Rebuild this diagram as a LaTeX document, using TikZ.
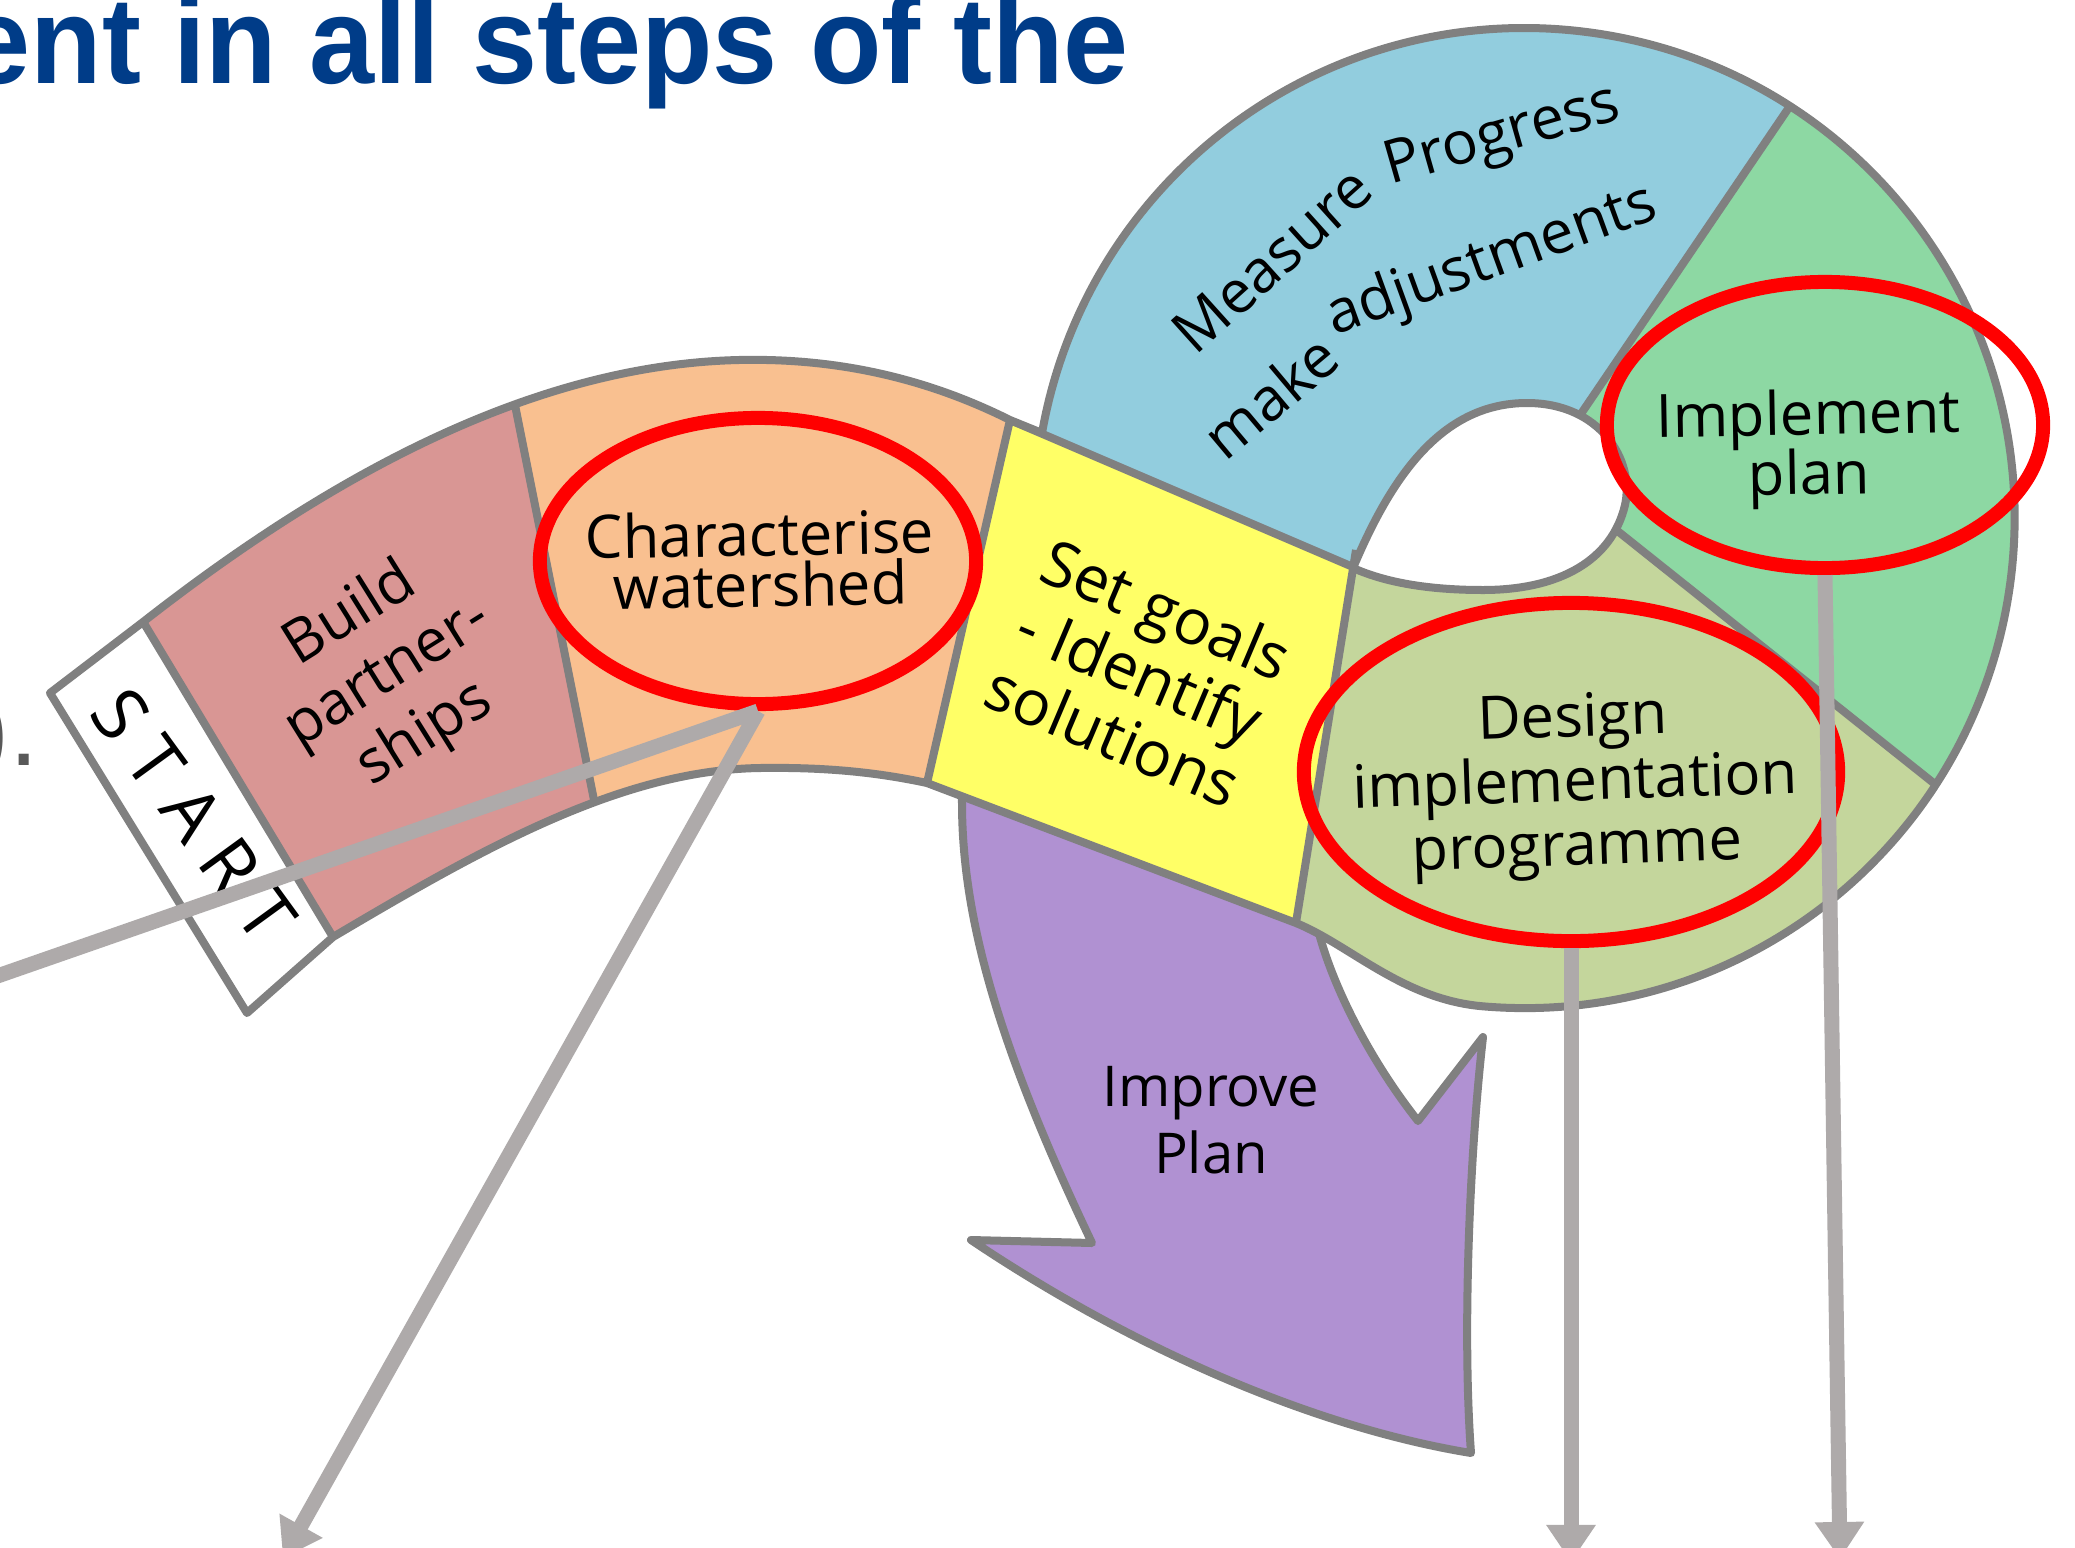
\documentclass[tikz,border=0pt]{standalone}
\usepackage{fontspec}
\usetikzlibrary{arrows.meta,shapes.geometric}
\newfontfamily\handfont{Open Sans}
\newfontfamily\slidefont{Liberation Sans}
\definecolor{pinkstep}{RGB}{217,150,148}
\definecolor{orangestep}{RGB}{249,192,144}
\definecolor{yellowstep}{RGB}{255,255,102}
\definecolor{bluestep}{RGB}{146,205,222}
\definecolor{greenstep}{RGB}{141,216,163}
\definecolor{olivestep}{RGB}{196,214,156}
\definecolor{purplestep}{RGB}{176,145,210}
\definecolor{edgegray}{RGB}{128,128,128}
\definecolor{hired}{RGB}{255,0,0}
\definecolor{ptrgray}{RGB}{174,170,170}
\definecolor{titleblue}{RGB}{0,60,136}
\definecolor{bodygray}{RGB}{89,89,89}

\newcommand{\bandoutline}{(50,693) -- (143,622) .. controls (350,460) and (560,355) .. (767,360)
  .. controls (860,362) and (940,385) .. (1010,420) -- (1042,433)
  arc[start angle=190, end angle=455, radius=490]
  .. controls (1402,999) and (1350,945) .. (1296,923)
  -- (927,783) .. controls (880,773) and (830,767) .. (760,768)
  .. controls (620,770) and (480,850) .. (333,937) -- (247,1013) -- cycle}
\newcommand{\holeoutline}{(1353,568) .. controls (1390,480) and (1440,403) .. (1527,403)
  .. controls (1600,403) and (1635,460) .. (1625,505)
  .. controls (1612,560) and (1560,590) .. (1483,590)
  .. controls (1420,590) and (1380,580) .. cycle}

\begin{document}
\begin{tikzpicture}[x=0.01cm, y=-0.01cm,
    edge/.style={draw=edgegray, line width=0.08cm, line join=round},
    steptext/.style={font=\handfont\fontsize{17}{20}\selectfont, align=center, inner sep=0pt},
    hilite/.style={draw=hired, line width=0.14cm, ellipse, inner sep=0pt},
    pointer/.style={draw=ptrgray, line width=0.15cm, -{Triangle[width=0.47cm,length=0.37cm]}},
    pointerline/.style={draw=ptrgray, line width=0.15cm}]
    \fill[white] (0,0) rectangle (2075,1548);
    \useasboundingbox (0,0) rectangle (2075,1548);

    % improve plan arrow, under the band
    \filldraw[edge, fill=purplestep] (960,770) -- (962,803) .. controls (962,920) and (1000,1050) .. (1092,1243)
      -- (971,1240) .. controls (1150,1360) and (1330,1430) .. (1471,1453)
      .. controls (1462,1330) and (1470,1150) .. (1483,1037) -- (1418,1121)
      .. controls (1370,1060) and (1335,990) .. (1320,937) -- (1320,900) -- cycle;

    \begin{scope}
      \clip \bandoutline;
      \fill[white] (0,500) -- (100,553) -- (400,1047) -- (0,1100) -- cycle;
      \fill[pinkstep] (100,553) -- (497,304) -- (621,919) -- (400,1047) -- cycle;
      \fill[orangestep] (497,304) -- (1035,311) -- (902,892) -- (621,919) -- cycle;
      \fill[yellowstep] (1010,420) -- (1353,567) -- (1295,930) -- (902,892) -- cycle;
      \fill[bluestep] (1010,420) -- (1035,311) -- (1000,-100) -- (1899,-55) -- (1583,410) -- (1353,567) -- cycle;
      \fill[greenstep] (1583,410) -- (1899,-55) -- (2200,-55) -- (2200,921) -- (2107,921) -- (1620,533) -- cycle;
      \fill[olivestep] (1353,567) -- (1620,533) -- (2107,921) -- (1900,1150) -- (1270,1150) -- (1279,1030) -- cycle;
      \draw[edge] (130,600) -- (345,957);
      \draw[edge] (510,380) -- (600,830);
      \draw[edge] (1015,398) -- (922,805);
      \draw[edge] (1010,420) -- (1360,570);
      \draw[edge] (1356,550) -- (1290,960);
      \draw[edge] (1570,430) -- (1830,47);
      \draw[edge] (1600,517) -- (1985,824);
    \end{scope}
    \filldraw[edge, fill=white] \holeoutline;
    \draw[edge] \bandoutline;

    \node[steptext, font=\handfont\fontsize{21}{24}\selectfont, rotate=-54] (start) at (194,815)
      {S\kern.25em T\kern.25em A\kern.25em R\kern.25em T};
    \node[steptext, rotate=32] (build) at (388,675) {Build\\partner-\\ships};
    \node[steptext, font=\handfont\fontsize{17}{14.5}\selectfont, rotate=1] (charact) at (760,559)
      {Characterise\\watershed};
    \node[steptext, font=\handfont\fontsize{18}{19.5}\selectfont, rotate=-23] (goals) at (1140,672)
      {Set goals\\- Identify\\solutions};
    \node[steptext, rotate=42] (measure) at (1272,260) {Measure};
    \node[steptext, rotate=16] (progress) at (1503,138) {Progress};
    \node[steptext, rotate=40] (make) at (1270,396) {make};
    \node[steptext, rotate=20] (adjust) at (1492,262) {adjustments};
    \node[steptext, font=\handfont\fontsize{17}{17}\selectfont, rotate=1] (implement) at (1809,449)
      {Implement\\plan};
    \node[steptext, font=\handfont\fontsize{17}{18.3}\selectfont, rotate=2] (design) at (1575,786)
      {Design\\implementation\\programme};
    \node[steptext, font=\handfont\fontsize{16}{19}\selectfont] (improve) at (1211,1120) {Improve\\Plan};

    \node[hilite, minimum width=4.36cm, minimum height=2.86cm] (ringcw) at (758,561) {};
    \node[hilite, minimum width=4.36cm, minimum height=2.86cm] (ringip) at (1825,425) {};
    \node[hilite, minimum width=5.34cm, minimum height=3.38cm] (ringdp) at (1571,772) {};

    \coordinate (tipleft) at (-60,996);
    \coordinate (tipdown) at (283,1558);
    \coordinate (tipdp) at (1571,1562);
    \coordinate (tipip) at (1840,1559);
    \draw[pointerline] (ringcw.south) -- (tipleft);
    \draw[pointer] (ringcw.south) -- (tipdown);
    \draw[pointer] (ringdp.south) -- (tipdp);
    \draw[pointer] (ringip.south) -- (tipip);

    \node[anchor=base west, inner sep=0pt, xscale=0.95, text=titleblue,
      font=\slidefont\bfseries\fontsize{35}{35}\selectfont] (title) at (-35,83) {ent in all steps of the};
    \node[anchor=base west, inner sep=0pt, text=bodygray,
      font=\slidefont\fontsize{30}{30}\selectfont] (tail) at (-26,765) {).};
\end{tikzpicture}
\end{document}
